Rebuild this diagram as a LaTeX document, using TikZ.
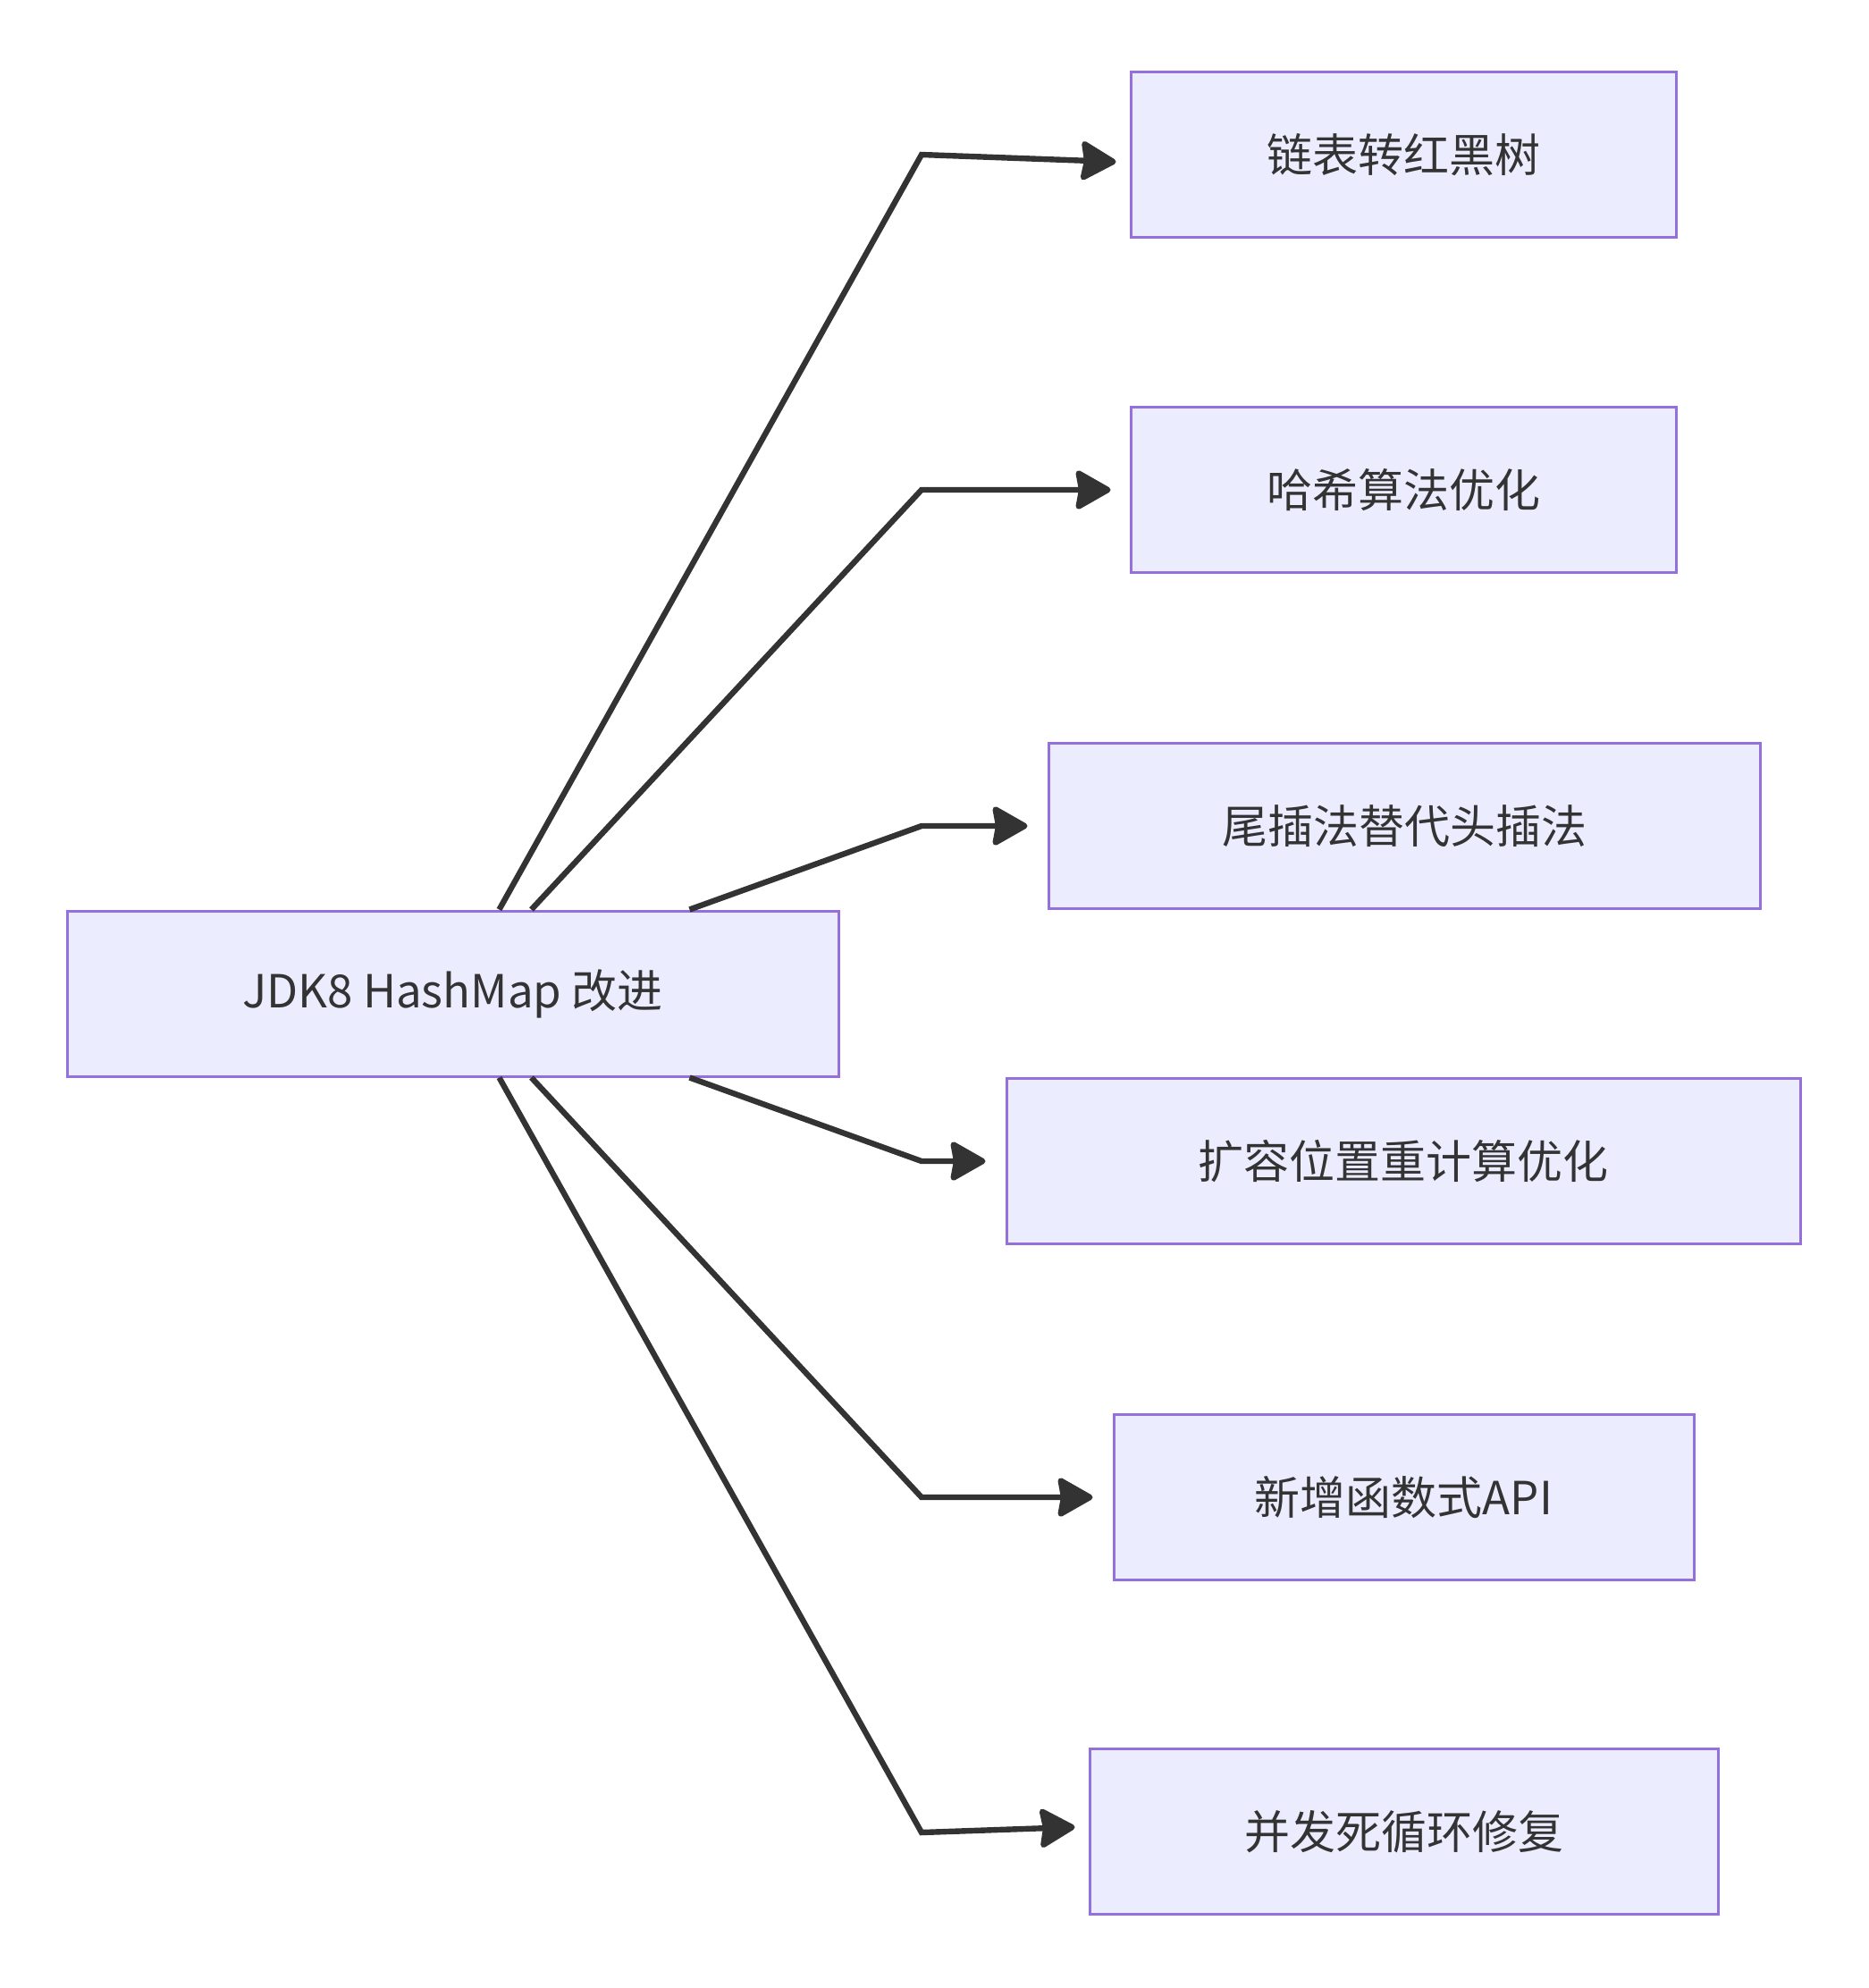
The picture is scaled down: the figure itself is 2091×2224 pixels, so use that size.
\documentclass[tikz,border=0pt]{standalone}
\usepackage{fontspec}
\setmainfont{Noto Sans CJK SC}
\usetikzlibrary{arrows.meta,calc}
\definecolor{boxfill}{HTML}{ECECFF}
\definecolor{boxline}{HTML}{9370DB}
\definecolor{ink}{HTML}{333333}
\begin{document}
\begin{tikzpicture}[x=0.5pt,y=-0.5pt,
  box/.style={draw=boxline,fill=boxfill,line width=1.5pt,minimum height=92.5pt,
    inner sep=0pt,text=ink,font=\fontsize{25.5pt}{31pt}\selectfont},
  edge/.style={draw=ink,line width=3.2pt,line join=miter,
    -{Stealth[length=21.5pt,width=24pt,inset=2pt,round]}}]
\useasboundingbox (0,0) rectangle (2091,2224);
\node[box,minimum width=431.5pt] (L) at (506.5,1111.5) {JDK8 HashMap 改进};
\node[box,minimum width=305pt] (B1) at (1570,173) {链表转红黑树};
\node[box,minimum width=305pt] (B2) at (1570,548) {哈希算法优化};
\node[box,minimum width=398pt] (B3) at (1571,924) {尾插法替代头插法};
\node[box,minimum width=444pt] (B4) at (1570,1299) {扩容位置重计算优化};
\node[box,minimum width=324.5pt] (B5) at (1570.5,1675) {新增函数式API};
\node[box,minimum width=351.5pt] (B6) at (1570.5,2049) {并发死循环修复};
\coordinate (k1) at (1031,173);
\coordinate (k2) at (1031,548);
\coordinate (k3) at (1031,924);
\coordinate (k4) at (1031,1299);
\coordinate (k5) at (1031,1675);
\coordinate (k6) at (1031,2050);
\draw[edge] ($(L.north west)+(485,0)$) -- (k1) -- ($(B1.west)+(-15,8)$);
\draw[edge] ($(L.north west)+(521,0)$) -- (k2) -- ($(B2.west)+(-21,0)$);
\draw[edge] ($(L.north west)+(698,0)$) -- (k3) -- ($(B3.west)+(-22,0)$);
\draw[edge] ($(L.south west)+(698,0)$) -- (k4) -- ($(B4.west)+(-22,0)$);
\draw[edge] ($(L.south west)+(521,0)$) -- (k5) -- ($(B5.west)+(-22,0)$);
\draw[edge] ($(L.south west)+(485,0)$) -- (k6) -- ($(B6.west)+(-15,-5)$);
\end{tikzpicture}
\end{document}
